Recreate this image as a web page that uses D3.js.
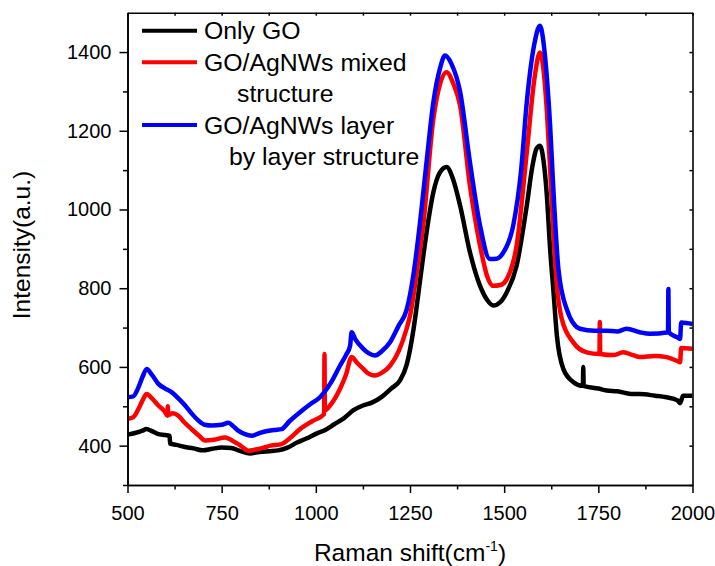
<!DOCTYPE html>
<html>
<head>
<meta charset="utf-8">
<script src="https://cdn.jsdelivr.net/npm/d3@7"></script>
<style>
  body { margin: 0; background: #fff; }
  svg { font-family: "Liberation Sans", Arial, sans-serif; }
</style>
</head>
<body>
<svg width="715" height="566"></svg>
<script>
  // series data: Raman shift (cm-1) and intensity (a.u.)
  const shiftGO = [500,520,540,550,565,580,600,612,613,630,650,675,700,725,750,775,800,825,850,875,900,925,950,975,1000,1025,1050,1075,1100,1125,1150,1175,1200,1223,1241,1260,1272,1285,1300,1312,1330,1347,1365,1383,1409,1436,1455,1471,1490,1507,1533,1560,1575,1586,1595,1605,1613,1622,1631,1640,1657,1683,1709,1710,1711,1750,1772,1800,1842,1860,1900,1931,1960,1967,1975,2000];
  const intGO   = [428,432,438,442,437,430,427,425,405,402,397,393,388,392,395,394,386,380,384,386,388,395,408,418,430,440,455,470,490,502,510,524,545,565,605,700,785,880,980,1044,1095,1108,1075,1010,892,806,770,756,765,790,857,1010,1110,1155,1162,1120,1040,900,790,679,595,562,552,600,552,545,540,538,531,531,527,523,515,508,527,527];

  const shiftMixed = [500,515,529,540,551,565,582,600,606,607,608,620,635,650,670,690,706,730,759,785,800,821,840,865,880,909,930,958,990,1022,1023,1024,1040,1064,1080,1095,1110,1126,1140,1157,1175,1197,1220,1241,1250,1268,1285,1312,1330,1347,1365,1383,1409,1436,1455,1471,1490,1507,1533,1560,1580,1595,1605,1613,1622,1631,1640,1653,1683,1719,1753,1754,1755,1790,1816,1842,1860,1900,1931,1960,1967,1970,2000];
  const intMixed   = [468,472,493,515,531,520,502,485,476,500,478,482,476,460,442,425,413,415,421,409,400,387,390,396,400,404,418,442,462,480,633,490,505,544,580,625,610,595,583,578,585,603,640,697,730,840,960,1230,1320,1349,1320,1264,1061,908,830,806,808,823,908,1145,1330,1399,1350,1255,1103,934,806,722,663,637,633,714,633,630,637,630,625,628,625,615,612,648,646];

  const shiftLayer = [500,515,529,540,551,565,582,600,617,635,653,670,688,705,724,750,768,780,794,810,830,850,865,890,909,930,958,985,1011,1040,1064,1080,1091,1095,1105,1126,1140,1157,1175,1197,1220,1241,1260,1277,1295,1312,1330,1343,1360,1383,1409,1436,1462,1480,1498,1524,1545,1560,1580,1595,1605,1613,1622,1631,1644,1666,1701,1740,1772,1800,1825,1860,1887,1935,1936,1937,1960,1967,1970,2000];
  const intLayer   = [523,525,548,575,595,580,557,545,536,520,502,482,464,453,451,453,458,450,438,430,425,432,436,440,442,462,485,505,523,560,603,630,654,688,670,646,635,629,640,663,705,745,840,970,1130,1272,1360,1391,1370,1299,1121,959,874,875,891,959,1100,1272,1420,1467,1420,1340,1213,1044,849,747,697,692,692,690,697,688,684,688,798,688,675,671,713,709];

  const seriesNames  = ["Only GO", "GO/AgNWs mixed\nstructure", "GO/AgNWs layer\nby layer structure"];
  const seriesColors = ["#000000", "#ff0000", "#0000ff"];

  const xTicks = [500, 750, 1000, 1250, 1500, 1750, 2000];
  const yTicks = [400, 600, 800, 1000, 1200, 1400];

  const svg = d3.select("svg");
  const margin = { left: 127.5, right: 22.5, top: 12.7, bottom: 81 };
  const width = 715 - margin.left - margin.right;
  const height = 566 - margin.top - margin.bottom;

  const x = d3.scaleLinear().domain([500, 2000]).range([0, width]);
  const y = d3.scaleLinear().domain([300, 1500]).range([height, 0]);

  const g = svg.append("g").attr("transform", `translate(${margin.left},${margin.top})`);

  g.append("clipPath").attr("id", "clip")
    .append("rect").attr("width", width).attr("height", height);

  const series = [
    { name: seriesNames[0], color: seriesColors[0], pts: d3.zip(shiftGO, intGO) },
    { name: seriesNames[1], color: seriesColors[1], pts: d3.zip(shiftMixed, intMixed) },
    { name: seriesNames[2], color: seriesColors[2], pts: d3.zip(shiftLayer, intLayer) }
  ];

  const line = d3.line().curve(d3.curveMonotoneX).x(d => x(d[0])).y(d => y(d[1]));

  g.append("g").attr("clip-path", "url(#clip)")
    .selectAll("path")
    .data(series)
    .join("path")
    .attr("fill", "none")
    .attr("stroke", d => d.color)
    .attr("stroke-width", 4.5)
    .attr("stroke-linejoin", "round")
    .attr("d", d => line(d.pts));

  // axes: major + minor ticks
  const minorX = d3.range(625, 2000, 250);
  const minorY = d3.range(300, 1500, 200);

  const styleAxis = sel => {
    sel.select(".domain").attr("stroke-width", 1.6);
    sel.selectAll(".tick line").attr("stroke-width", 1.5);
    sel.selectAll("text").attr("font-size", 20).attr("font-family", "Liberation Sans, Arial, sans-serif").attr("fill", "#000");
  };

  g.append("g").attr("transform", `translate(0,${height})`)
    .call(d3.axisBottom(x).tickValues(xTicks).tickFormat(d3.format("d")).tickSize(8).tickPadding(13).tickSizeOuter(0))
    .call(styleAxis);
  g.append("g").attr("transform", `translate(0,${height})`)
    .call(d3.axisBottom(x).tickValues(minorX).tickFormat("").tickSize(4.5).tickSizeOuter(0))
    .call(styleAxis);

  g.append("g")
    .call(d3.axisLeft(y).tickValues(yTicks).tickFormat(d3.format("d")).tickSize(8).tickPadding(8).tickSizeOuter(0))
    .call(styleAxis);
  g.append("g")
    .call(d3.axisLeft(y).tickValues(minorY).tickFormat("").tickSize(4.5).tickSizeOuter(0))
    .call(styleAxis);

  // top and right frame with small inward ticks
  g.append("g")
    .call(d3.axisTop(x).tickValues(xTicks.concat(minorX)).tickFormat("").tickSize(-3).tickSizeOuter(0))
    .call(styleAxis);
  g.append("g").attr("transform", `translate(${width},0)`)
    .call(d3.axisRight(y).tickValues(yTicks.concat(minorY)).tickFormat("").tickSize(-3).tickSizeOuter(0))
    .call(styleAxis);

  // axis titles
  const xt = svg.append("text")
    .attr("x", 410).attr("y", 561)
    .attr("text-anchor", "middle")
    .attr("font-size", 24.5);
  xt.append("tspan").text("Raman shift(cm");
  xt.append("tspan").attr("font-size", 14).attr("dy", -10).text("-1");
  xt.append("tspan").attr("dy", 10).text(")");

  svg.append("text")
    .attr("transform", "translate(30,245) rotate(-90)")
    .attr("text-anchor", "middle")
    .attr("font-size", 24.5)
    .text("Intensity(a.u.)");

  // legend
  const legendY = [30.7, 62.3, 125];
  const indent = [0, 33, 25];
  const legend = svg.append("g");
  series.forEach((s, i) => {
    legend.append("line")
      .attr("x1", 142).attr("x2", 197)
      .attr("y1", legendY[i]).attr("y2", legendY[i])
      .attr("stroke", s.color).attr("stroke-width", 4);
    const lines = s.name.split("\n");
    lines.forEach((t, j) => {
      legend.append("text")
        .attr("x", 204 + (j > 0 ? indent[i] : 0))
        .attr("y", legendY[i] + 8.5 + j * 31)
        .attr("font-size", 24.8)
        .text(t);
    });
  });
</script>
</body>
</html>
